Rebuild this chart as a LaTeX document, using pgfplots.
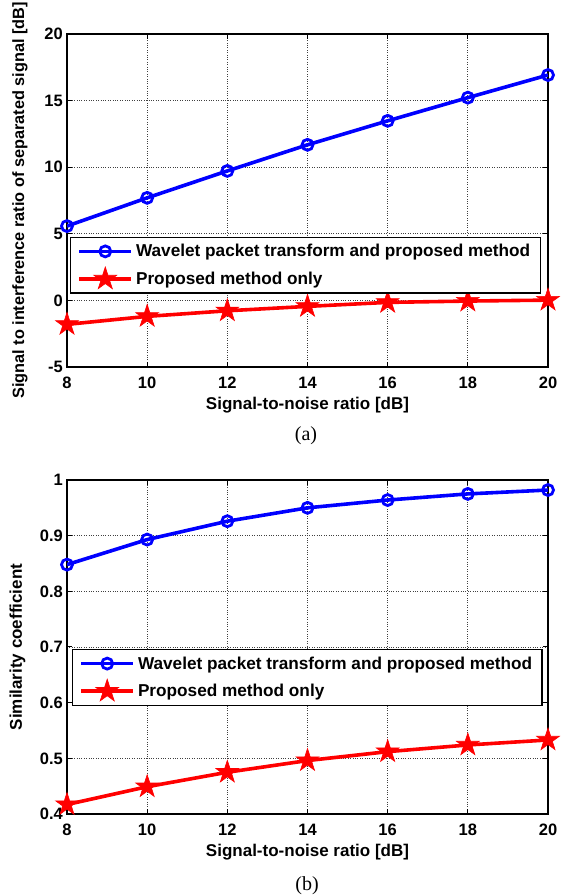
\documentclass[border=0pt]{standalone}
\usepackage{fontspec}
\setmainfont{Liberation Sans}
\newfontfamily\capfont{Liberation Serif}
\usepackage{pgfplots}
\pgfplotsset{compat=1.18}
\newdimen\starinner
\makeatletter
\pgfdeclareplotmark{fstar}{%
  \starinner=0.382\pgfplotmarksize
  \pgfpathmoveto{\pgfqpointpolar{90}{\pgfplotmarksize}}%
  \pgfpathlineto{\pgfqpointpolar{126}{\starinner}}%
  \pgfpathlineto{\pgfqpointpolar{162}{\pgfplotmarksize}}%
  \pgfpathlineto{\pgfqpointpolar{198}{\starinner}}%
  \pgfpathlineto{\pgfqpointpolar{234}{\pgfplotmarksize}}%
  \pgfpathlineto{\pgfqpointpolar{270}{\starinner}}%
  \pgfpathlineto{\pgfqpointpolar{306}{\pgfplotmarksize}}%
  \pgfpathlineto{\pgfqpointpolar{342}{\starinner}}%
  \pgfpathlineto{\pgfqpointpolar{18}{\pgfplotmarksize}}%
  \pgfpathlineto{\pgfqpointpolar{54}{\starinner}}%
  \pgfpathclose
  \pgfusepathqfillstroke}
\makeatother
\pgfplotsset{
  mystyle/.style={
    scale only axis,
    width=481pt,
    xmin=8, xmax=20,
    xtick={8,10,...,20},
    axis line style={black, line width=1.3pt},
    tick style={black, line width=1pt},
    major tick length=5pt,
    tick align=inside,
    xtick pos=both, ytick pos=both,
    grid=major,
    major grid style={dotted, gray!50!black, line width=0.8pt},
    /pgf/number format/assume math mode=true,
    tick label style={font=\fontsize{16.5}{19}\selectfont\bfseries},
    xticklabel style={inner ysep=0pt, yshift=-9.5pt},
    yticklabel style={inner xsep=0pt, xshift=-4pt},
    every axis x label/.style={at={(rel axis cs:0.5,0)}, anchor=center, yshift=-38pt, font=\fontsize{17}{20}\selectfont\bfseries},
    xlabel={Signal-to-noise ratio [dB]},
    legend cell align=left,
    legend image code/.code={\draw[mark repeat=2,mark phase=2,##1] plot coordinates {(0pt,0pt) (26pt,0pt) (52pt,0pt)};},
    legend style={anchor=north west, draw=black, line width=1.2pt, fill=white,
      font=\fontsize{17.2}{20}\selectfont\bfseries,
      inner xsep=7pt, inner ysep=3pt,
      nodes={inner xsep=3pt, inner ysep=3pt, text height=13.5pt, text depth=2.5pt},
      row sep=4.6pt},
  },
  bluel/.style={blue, line width=3.6pt, mark=o, mark size=5.5pt, mark options={line width=2.8pt, fill=none}},
  redl/.style={red, line width=3.6pt, mark=fstar, mark size=12pt, mark options={line width=0.6pt, fill=red}},
}
\begin{document}
\begin{tikzpicture}
\begin{axis}[mystyle, at={(67pt,529pt)}, anchor=south west,
  height=333pt,
  ymin=-5, ymax=20, ytick={-5,0,5,10,15,20},
  every axis y label/.style={at={(rel axis cs:0,0.5)}, rotate=90, anchor=center, yshift=47pt, font=\fontsize{16.3}{19}\selectfont\bfseries},
  ylabel={Signal to interference ratio of separated signal [dB]},
  legend style={at={(rel axis cs:0.006,0.391)}},
]
\addplot[bluel] coordinates {(8,5.58) (10,7.7) (12,9.72) (14,11.68) (16,13.48) (18,15.22) (20,16.92)};
\addlegendentry{Wavelet packet transform and proposed method}
\addplot[redl] coordinates {(8,-1.8) (10,-1.2) (12,-0.78) (14,-0.45) (16,-0.15) (18,-0.05) (20,0.02)};
\addlegendentry{Proposed method only}
\end{axis}
\begin{axis}[mystyle, at={(67pt,82pt)}, anchor=south west,
  height=334pt,
  ymin=0.4, ymax=1, ytick={0.4,0.5,0.6,0.7,0.8,0.9,1},
  yticklabels={0.4,0.5,0.6,0.7,0.8,0.9,1},
  every axis y label/.style={at={(rel axis cs:0,0.5)}, rotate=90, anchor=center, yshift=49.5pt, font=\fontsize{17}{20}\selectfont\bfseries},
  ylabel={Similarity coefficient},
  legend style={at={(rel axis cs:0.01,0.494)}},
]
\addplot[bluel] coordinates {(8,0.848) (10,0.893) (12,0.926) (14,0.950) (16,0.964) (18,0.975) (20,0.982)};
\addlegendentry{Wavelet packet transform and proposed method}
\addplot[redl] coordinates {(8,0.417) (10,0.449) (12,0.475) (14,0.496) (16,0.512) (18,0.524) (20,0.533)};
\addlegendentry{Proposed method only}
\end{axis}
\node[font=\capfont\fontsize{20}{24}\selectfont, anchor=center] at (306pt,460pt) {(a)};
\node[font=\capfont\fontsize{20}{24}\selectfont, anchor=center] at (307pt,10pt) {(b)};
\pgfresetboundingbox
\path[use as bounding box] (0pt,0pt) rectangle (568pt,896pt);
\end{tikzpicture}
\end{document}
